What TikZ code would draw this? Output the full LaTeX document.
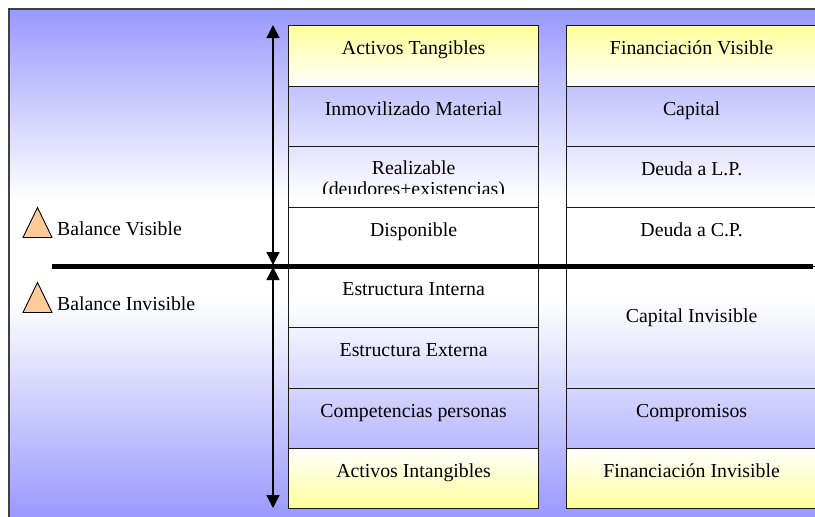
\documentclass[tikz,border=0pt]{standalone}
\usepackage{fontspec}
\setmainfont{Liberation Serif}
\usetikzlibrary{arrows.meta,positioning}

\definecolor{fondo}{RGB}{153,153,255}
\definecolor{amarillo}{RGB}{255,255,153}
\definecolor{naranja}{RGB}{255,204,153}

\tikzset{
  celda/.style={draw=black!90, line width=1.2pt, minimum width=250pt, inner sep=0pt, anchor=north west},
  cabeza/.style={celda, top color=amarillo, bottom color=white},
  pie/.style={celda, top color=white, bottom color=amarillo},
  texto/.style={anchor=base, inner sep=0pt, font=\fontsize{19.8}{21}\selectfont},
  aviso/.style={draw=black, line width=0.9pt, fill=naranja, line join=miter},
  flecha/.style={line width=1.4pt, {Triangle[width=13pt,length=13pt]}-{Triangle[width=13pt,length=13pt]}}
}

\begin{document}
\begin{tikzpicture}[x=1pt,y=-1pt]
\useasboundingbox (0,0) rectangle (815,517);

\shade[top color=fondo, bottom color=white] (9,9) rectangle (815,200);
\fill[white] (9,200) rectangle (815,300);
\shade[top color=white, bottom color=fondo] (9,300) rectangle (815,517);
\draw[black!75, line width=2pt] (9,530) -- (9,9) -- (830,9);

\fill[white] (23,207) rectangle (218,250);

% activos
\node[cabeza, minimum height=60.5pt] (atan) at (288,25) {};
\foreach \nom/\y/\h in {imm/85.5/60.5, rea/146/60.5, dis/206.5/59.5, ein/266/61, eex/327/60.5, com/387.5/60.5}
  \node[celda, minimum height=\h pt] (\nom) at (288,\y) {};
\node[pie, minimum height=60pt] (aint) at (288,448) {};

% financiacion
\node[cabeza, minimum height=60.5pt] (fvis) at (566,25) {};
\foreach \nom/\y/\h in {cap/85.5/60.5, dlp/146/60.5, dcp/206.5/59.5, cinv/266/121.5, compr/387.5/60.5}
  \node[celda, minimum height=\h pt] (\nom) at (566,\y) {};
\node[pie, minimum height=60pt] (finv) at (566,448) {};

\foreach \nom/\t in {atan/Activos Tangibles, imm/Inmovilizado Material, dis/Disponible, ein/Estructura Interna, eex/Estructura Externa, com/Competencias personas, aint/Activos Intangibles, fvis/Financiación Visible, cap/Capital, dlp/Deuda a L.P., dcp/Deuda a C.P., compr/Compromisos, finv/Financiación Invisible}
  \node[texto] (t\nom) at ([yshift=-29.5pt]\nom.north) {\t};
\node[texto] (tcinv) at ([yshift=-56pt]cinv.north) {Capital Invisible};

\begin{scope}
\clip (288,146) rectangle (538,193.5);
\node[texto, align=center, anchor=north] (trea) at ([yshift=-15pt]rea.north) {Realizable\\(deudores+existencias)};
\end{scope}

\coordinate (lineaI) at (52,266);
\coordinate (lineaD) at (813,266);
\draw[line width=5pt] (lineaI) -- (lineaD);

\coordinate (sup) at (273,25);
\coordinate (medA) at (273,265);
\coordinate (medB) at (273,267);
\coordinate (inf) at (273,508);
\draw[flecha] (sup) -- (medA);
\draw[flecha] (medB) -- (inf);

\draw[aviso] (23,237.5) -- (37.5,207.5) -- (52,237.5) -- cycle;
\node[texto, anchor=base west] (bvis) at (57,235) {Balance Visible};
\draw[aviso] (23,312.5) -- (37.5,282.5) -- (52,312.5) -- cycle;
\node[texto, anchor=base west] (binv) at (57,310) {Balance Invisible};

\end{tikzpicture}
\end{document}
